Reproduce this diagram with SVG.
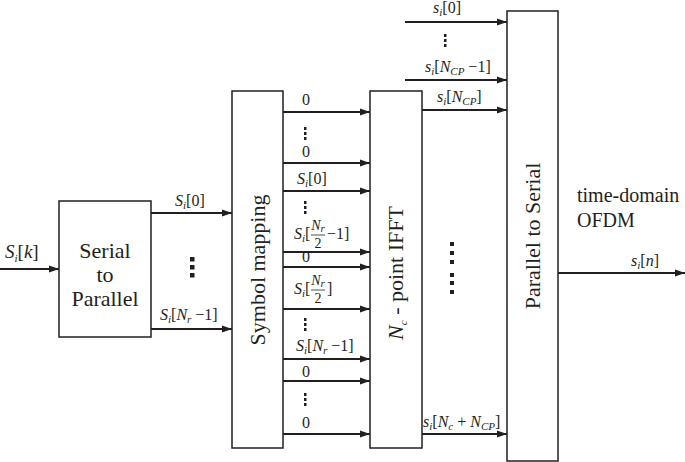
<svg xmlns="http://www.w3.org/2000/svg" width="685" height="462" viewBox="0 0 685 462">
<defs>
<marker id="ah" markerWidth="10" markerHeight="8" refX="10" refY="4" orient="auto" markerUnits="userSpaceOnUse"><path d="M0,0.5 L10,4 L0,7.5 z" fill="#231f20"/></marker>
<style>
.box{fill:#fff;stroke:#231f20;stroke-width:1.5}
.ln{stroke:#231f20;stroke-width:2;fill:none;marker-end:url(#ah)}
text{font-family:"Liberation Serif","Times New Roman",serif;fill:#231f20}
.big{font-size:22px}
.mid{font-size:20px}
.lbl{font-size:16px}
.it{font-style:italic}
.sub{font-size:11px;font-style:italic}
.fr{font-size:14px}
.dot{fill:#231f20}
.bar{stroke:#231f20;stroke-width:0.8}
</style>
</defs>
<rect width="685" height="462" fill="#fff"/>

<g id="serial-to-parallel">
<rect class="box" x="59" y="201" width="92" height="136"/>
<text class="big" text-anchor="middle" x="105" y="258">Serial</text>
<text class="big" text-anchor="middle" x="105" y="282">to</text>
<text class="big" text-anchor="middle" x="105" y="306">Parallel</text>
</g>

<g id="symbol-mapping">
<rect class="box" x="232" y="91" width="51" height="357"/>
<text class="big" text-anchor="middle" transform="translate(258,270) rotate(-90)" y="7">Symbol mapping</text>
</g>

<g id="ifft">
<rect class="box" x="370" y="91" width="52" height="357"/>
<text class="big" text-anchor="middle" transform="translate(396,273) rotate(-90)" y="7"><tspan class="it">N</tspan><tspan class="sub" font-size="14px" dy="4">c</tspan><tspan dy="-4"> - point IFFT</tspan></text>
</g>

<g id="parallel-to-serial">
<rect class="box" x="507" y="11" width="51" height="450"/>
<text class="big" text-anchor="middle" transform="translate(533,236) rotate(-90)" y="7">Parallel to Serial</text>
</g>

<g id="connectors">
<line class="ln" x1="0" y1="269" x2="59" y2="269"/>
<line class="ln" x1="151" y1="213" x2="232" y2="213"/>
<line class="ln" x1="151" y1="329" x2="232" y2="329"/>
<line class="ln" x1="283" y1="112" x2="370" y2="112"/>
<line class="ln" x1="283" y1="163" x2="370" y2="163"/>
<line class="ln" x1="283" y1="191" x2="370" y2="191"/>
<line class="ln" x1="283" y1="252" x2="370" y2="252"/>
<line class="ln" x1="283" y1="267" x2="370" y2="267"/>
<line class="ln" x1="283" y1="309" x2="370" y2="309"/>
<line class="ln" x1="283" y1="359" x2="370" y2="359"/>
<line class="ln" x1="283" y1="381" x2="370" y2="381"/>
<line class="ln" x1="283" y1="434" x2="370" y2="434"/>
<line class="ln" x1="405" y1="22" x2="507" y2="22"/>
<line class="ln" x1="405" y1="80" x2="507" y2="80"/>
<line class="ln" x1="422" y1="110" x2="507" y2="110"/>
<line class="ln" x1="422" y1="434" x2="507" y2="434"/>
<line class="ln" x1="558" y1="273" x2="685" y2="273"/>
</g>

<g id="labels">
<text font-size="19px" x="5" y="258"><tspan class="it">S</tspan><tspan class="sub" font-size="12px" dy="4">i</tspan><tspan dy="-4">[</tspan><tspan class="it">k</tspan><tspan>]</tspan></text>
<text class="lbl" x="175" y="206"><tspan class="it">S</tspan><tspan class="sub" dy="3">i</tspan><tspan dy="-3">[0]</tspan></text>
<text class="lbl" x="160" y="320"><tspan class="it">S</tspan><tspan class="sub" dy="3">i</tspan><tspan dy="-3">[</tspan><tspan class="it">N</tspan><tspan class="sub" dy="3">r</tspan><tspan dy="-3"> −1]</tspan></text>

<text class="lbl" x="302" y="105">0</text>
<text class="lbl" x="302" y="157">0</text>
<text class="lbl" x="297" y="184"><tspan class="it">S</tspan><tspan class="sub" dy="3">i</tspan><tspan dy="-3">[0]</tspan></text>

<text class="lbl" x="294" y="239"><tspan class="it">S</tspan><tspan class="sub" dy="3">i</tspan><tspan dy="-3">[</tspan></text>
<text class="fr" text-anchor="middle" x="318" y="230"><tspan class="it">N</tspan><tspan class="sub" font-size="9px" dy="2">r</tspan></text>
<line class="bar" x1="311" y1="235" x2="325" y2="235"/>
<text class="fr" text-anchor="middle" x="318" y="248">2</text>
<text class="lbl" x="327" y="239">−1]</text>

<text class="lbl" x="302" y="262">0</text>

<text class="lbl" x="294" y="294"><tspan class="it">S</tspan><tspan class="sub" dy="3">i</tspan><tspan dy="-3">[</tspan></text>
<text class="fr" text-anchor="middle" x="318" y="285"><tspan class="it">N</tspan><tspan class="sub" font-size="9px" dy="2">r</tspan></text>
<line class="bar" x1="311" y1="290" x2="325" y2="290"/>
<text class="fr" text-anchor="middle" x="318" y="303">2</text>
<text class="lbl" x="327" y="294">]</text>

<text class="lbl" x="296" y="351"><tspan class="it">S</tspan><tspan class="sub" dy="3">i</tspan><tspan dy="-3">[</tspan><tspan class="it">N</tspan><tspan class="sub" dy="3">r</tspan><tspan dy="-3"> −1]</tspan></text>
<text class="lbl" x="302" y="377">0</text>
<text class="lbl" x="302" y="428">0</text>

<text class="lbl" x="433" y="13"><tspan class="it">s</tspan><tspan class="sub" dy="3">i</tspan><tspan dy="-3">[0]</tspan></text>
<text class="lbl" x="425" y="72"><tspan class="it">s</tspan><tspan class="sub" dy="3">i</tspan><tspan dy="-3">[</tspan><tspan class="it">N</tspan><tspan class="sub" font-size="9px" dy="3">CP</tspan><tspan dy="-3"> −1]</tspan></text>
<text class="lbl" x="437" y="102"><tspan class="it">s</tspan><tspan class="sub" dy="3">i</tspan><tspan dy="-3">[</tspan><tspan class="it">N</tspan><tspan class="sub" font-size="9px" dy="3">CP</tspan><tspan dy="-3">]</tspan></text>
<text class="lbl" x="423" y="427"><tspan class="it">s</tspan><tspan class="sub" dy="3">i</tspan><tspan dy="-3">[</tspan><tspan class="it">N</tspan><tspan class="sub" dy="3">c</tspan><tspan dy="-3"> + </tspan><tspan class="it">N</tspan><tspan class="sub" font-size="9px" dy="3">CP</tspan><tspan dy="-3">]</tspan></text>

<text class="mid" x="577" y="202">time-domain</text>
<text class="mid" x="577" y="227">OFDM</text>
<text class="lbl" x="631" y="266"><tspan class="it">s</tspan><tspan class="sub" dy="3">i</tspan><tspan dy="-3">[</tspan><tspan class="it">n</tspan><tspan>]</tspan></text>
</g>

<g id="ellipses" class="dot">
<rect x="190" y="257" width="4.5" height="4.5"/>
<rect x="190" y="265" width="4.5" height="4.5"/>
<rect x="190" y="273" width="4.5" height="4.5"/>
<rect x="304" y="127" width="2.5" height="3"/>
<rect x="304" y="132" width="2.5" height="3"/>
<rect x="304" y="137" width="2.5" height="3"/>
<rect x="304" y="201" width="2.5" height="3"/>
<rect x="304" y="206" width="2.5" height="3"/>
<rect x="304" y="211" width="2.5" height="3"/>
<rect x="304" y="318" width="2.5" height="3"/>
<rect x="304" y="323" width="2.5" height="3"/>
<rect x="304" y="328" width="2.5" height="3"/>
<rect x="304" y="393" width="2.5" height="3"/>
<rect x="304" y="398" width="2.5" height="3"/>
<rect x="304" y="403" width="2.5" height="3"/>
<rect x="444" y="34" width="2.5" height="3"/>
<rect x="444" y="39" width="2.5" height="3"/>
<rect x="444" y="44" width="2.5" height="3"/>
<rect x="450" y="242" width="4" height="4"/>
<rect x="450" y="251" width="4" height="4"/>
<rect x="450" y="260" width="4" height="4"/>
<rect x="450" y="273" width="4" height="4"/>
<rect x="450" y="281" width="4" height="4"/>
<rect x="450" y="290" width="4" height="4"/>
</g>
</svg>
